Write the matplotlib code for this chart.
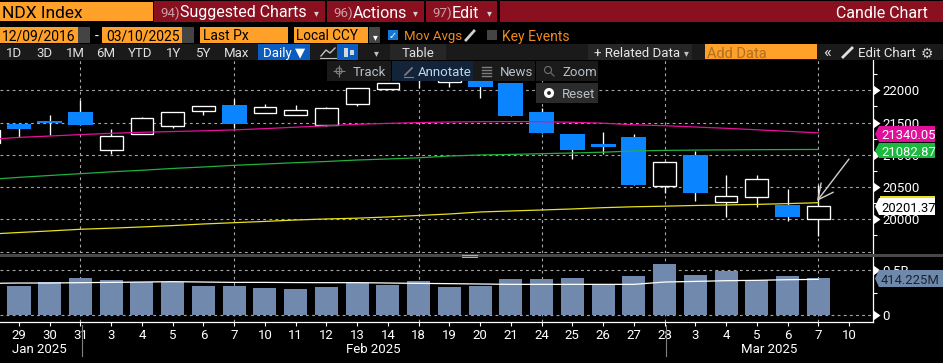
import matplotlib
matplotlib.use("Agg")
import matplotlib.pyplot as plt
from matplotlib.patches import Rectangle, Polygon, Circle
from matplotlib.markers import CARETRIGHTBASE

plt.rcParams["font.family"] = ["Roboto", "DejaVu Sans"]

# ============================================================
# 1. data
# ============================================================
days = ["28", "29", "30", "31", "3", "4", "5", "6", "7", "10", "11", "12", "13", "14",
        "18", "19", "20", "21", "24", "25", "26", "27", "28", "3", "4", "5", "6", "7", "10"]

open_px = [21183, 21478, 21524, 21664, 21079, 21318, 21451, 21674, 21772, 21653, 21622, 21467, 21783, 22025,
           22222, 22124, 22191, 22113, 21664, 21322, 21172, 21276, 20512, 20997, 20273, 20350, 20226, 20009]
high_px = [21385, 21478, 21617, 21850, 21400, 21591, 21659, 21761, 21865, 21788, 21767, 21741, 22031, 22108,
           22222, 22222, 22191, 22113, 21726, 21322, 21353, 21322, 20909, 21064, 20687, 20687, 20470, 20532]
low_px = [21183, 21276, 21307, 21467, 21017, 21318, 21416, 21617, 21416, 21653, 21622, 21451, 21757, 22025,
          22040, 22047, 21881, 21606, 21343, 20935, 21012, 20532, 20408, 20284, 20036, 20191, 19978, 19741]
close_px = [21385, 21400, 21493, 21467, 21287, 21566, 21659, 21761, 21482, 21746, 21690, 21721, 22031, 22108,
            22144, 22171, 22051, 21606, 21343, 21074, 21126, 20532, 20884, 20412, 20357, 20620, 20036, 20201.37]

ma_magenta = [21237, 21270, 21291, 21313, 21333, 21349, 21361, 21372, 21386, 21406, 21428, 21450, 21473, 21487,
              21499, 21509, 21513, 21515, 21513, 21504, 21490, 21465, 21451, 21431, 21411, 21388, 21364, 21340.05]
ma_green = [20617, 20650, 20679, 20707, 20736, 20760, 20788, 20811, 20837, 20857, 20878, 20896, 20919, 20935,
            20953, 20981, 20997, 21006, 21017, 21028, 21040, 21059, 21068, 21073, 21076, 21079, 21081, 21082.87]
ma_yellow = [19769, 19795, 19819, 19845, 19862, 19881, 19902, 19927, 19947, 19967, 19989, 20005, 20017, 20036,
             20059, 20082, 20113, 20129, 20144, 20160, 20180, 20194, 20203, 20214, 20222, 20231, 20243, 20257]

volume = [474, 324, 365, 414, 392, 365, 373, 324, 324, 302, 291, 313, 362, 336,
          380, 313, 324, 403, 403, 414, 336, 436, 571, 447, 492, 388, 436, 414.225]
volume_ma = [354, 358, 358, 362, 365, 369, 373, 369, 365, 365, 363, 362, 362, 358,
             354, 351, 347, 343, 343, 343, 343, 343, 369, 376, 384, 388, 395, 399]

price_grid = [19500, 20000, 20500, 21000, 21500, 22000]
price_ticks = [20000, 20500, 21000, 21500, 22000]
price_minor = [19750, 20250, 20750, 21250, 21750, 22250]
vertical_grid = [3, 8, 14, 18, 22, 27]

# ============================================================
# 2. figure helpers
# ============================================================
W, H = 943, 363
BLUE = "#0A84FF"
ORANGE = "#FFA028"
RED = "#8A1020"
BAR_GRAY = "#7089AD"
GRID = "#A8A8A8"

fig = plt.figure(figsize=(W / 100, H / 100), dpi=100, facecolor="black")


def px_axes(x0, y0, x1, y1, **kw):
    return fig.add_axes([x0 / W, 1 - y1 / H, (x1 - x0) / W, (y1 - y0) / H], facecolor="black", **kw)


def style_axis(ax, xlim, ylim):
    ax.set_xlim(*xlim)
    ax.set_ylim(*ylim)
    for side in ["top", "left"]:
        ax.spines[side].set_visible(False)
    ax.spines["right"].set_color("white")
    ax.spines["right"].set_linewidth(0.9)
    ax.yaxis.tick_right()
    ax.tick_params(axis="y", which="major", length=0, pad=7, labelcolor="white", labelsize=9.5)
    ax.tick_params(axis="y", which="minor", length=3, width=0.8, color="white", labelright=False)


def draw_grid(ax, ys):
    for y in ys:
        ax.plot(x_range, [y, y], color=GRID, lw=0.8, ls=(0, (2.5, 3)), zorder=1.5)
    y0, y1 = ax.get_ylim()
    for x in vertical_grid:
        ax.plot([x, x], [y0, y1], color=GRID, lw=0.8, ls=(0, (2.5, 3)), zorder=1.5)


# x position: day index 0 is the 28 Jan candle, cut off at the left edge
x_range = (-0.618 + 1, 27.78 + 1)
xs = list(range(len(open_px)))

# ============================================================
# 3. price panel
# ============================================================
ax = px_axes(0, 60, 873, 253)
style_axis(ax, x_range, (19477, 22470))
ax.spines["bottom"].set_visible(False)
ax.set_xticks([])
ax.set_yticks(price_ticks)
ax.set_yticks(price_minor, minor=True)
draw_grid(ax, price_grid)
ax.plot([1] * len(price_ticks), price_ticks, ls="none", marker=CARETRIGHTBASE, ms=7, color="white",
        mec="none", transform=ax.get_yaxis_transform(), clip_on=False, zorder=6)

for i in xs:
    ax.vlines(i, low_px[i], high_px[i], color="white", lw=0.95, zorder=2)
    body_low = min(open_px[i], close_px[i])
    body_h = abs(close_px[i] - open_px[i])
    if close_px[i] >= open_px[i]:
        ax.bar(i, body_h, 0.74, body_low, facecolor="black", edgecolor="white", lw=0.95, zorder=3)
    else:
        ax.bar(i, body_h, 0.81, body_low, color=BLUE, lw=0, zorder=3)

ax.plot(xs, ma_magenta, color="#E5109A", lw=0.9, zorder=4)
ax.plot(xs, ma_green, color="#22B03F", lw=0.9, zorder=4)
ax.plot(xs, ma_yellow, color="#E8E020", lw=0.9, zorder=4)

# ============================================================
# 4. volume panel
# ============================================================
ax2 = px_axes(0, 257, 873, 322)
style_axis(ax2, x_range, (-78, 649))
ax2.spines["bottom"].set_color("white")
ax2.spines["bottom"].set_linewidth(0.9)
ax2.set_yticks([0, 500], ["0", "0.5B"])
ax2.set_yticks([250], minor=True)
draw_grid(ax2, [0, 500])
ax2.bar(xs, volume, 0.75, color=BAR_GRAY, zorder=2)
ax2.plot(xs, volume_ma, color="white", lw=0.9, zorder=3)
ax2.plot([1, 1], [0, 500], ls="none", marker=CARETRIGHTBASE, ms=7, color="white",
         mec="none", transform=ax2.get_yaxis_transform(), clip_on=False, zorder=6)
ax2.set_xticks(list(range(1, len(days))), days[1:])
ax2.tick_params(axis="x", length=3, width=0.8, color="white", labelcolor="white", labelsize=9.5, pad=2)

# ============================================================
# 5. terminal chrome, in pixel coordinates
# ============================================================
ui = fig.add_axes([0, 0, 1, 1], zorder=20)
ui.set_xlim(0, W)
ui.set_ylim(H, 0)
ui.axis("off")


def box(x0, y0, x1, y1, color, **kw):
    ui.add_patch(Rectangle((x0, y0), x1 - x0, y1 - y0, facecolor=color, edgecolor="none", **kw))


def label(x, y, s, color="white", size=9.5, ha="left", **kw):
    ui.text(x, y, s, color=color, fontsize=size, ha=ha, va="center_baseline", **kw)


def tag(y0, y1, x1, color, s, text_color="white", size=9.4):
    mid = (y0 + y1) / 2
    ui.add_patch(Polygon([(875, mid), (879, y0), (x1, y0), (x1, y1), (879, y1)], facecolor=color, edgecolor="none"))
    label(881, mid, s, text_color, size)


# top row
box(0, 2, 153, 21, ORANGE)
label(2, 12, "NDX Index", "black", 12.5)
for x0, x1 in [(154, 325), (327, 424), (426, 497), (500, 943)]:
    box(x0, 1, x1, 22, RED)
label(160, 11.5, "94)", "#C8A0A8", 9.5)
label(180, 11.5, "Suggested Charts", "white", 11.5)
label(316, 12, "▾", "#D0D0D0", 7, ha="center")
label(333, 11.5, "96)", "#C8A0A8", 9.5)
label(353, 11.5, "Actions", "white", 11.5)
label(415, 12, "▾", "#D0D0D0", 7, ha="center")
label(432, 11.5, "97)", "#C8A0A8", 9.5)
label(452, 11.5, "Edit", "white", 11.5)
label(489, 12, "▾", "#D0D0D0", 7, ha="center")
label(928, 11.5, "Candle Chart", "white", 11.5, ha="right")

# date row
box(0, 27, 78, 43, ORANGE)
box(78, 27, 90, 43, "#444444")
label(2, 35, "12/09/2016", "black", 10)
label(97, 35, "-", "white", 10, ha="center")
box(102, 27, 182, 43, ORANGE)
box(182, 27, 194, 43, "#444444")
label(106, 35, "03/10/2025", "black", 10)
box(200, 27, 288, 43, ORANGE)
label(203, 35, "Last Px", "black", 10)
box(294, 27, 368, 43, ORANGE)
label(296, 35, "Local CCY", "black", 9.8)
box(369, 27, 380, 43, "#444444")
label(375, 36, "▾", "white", 7, ha="center")
box(388, 30, 398, 40, "#1478D8")
label(393, 35, "✓", "white", 7, ha="center")
label(404, 35, "Mov Avgs", "#F08A1C", 9.5)
box(487, 30, 497, 40, "#444444")
label(502, 35, "Key Events", "#F08A1C", 10)
ui.plot([466, 474], [40, 31], color="#D0D0D0", lw=2)

# button row
box(0, 44, 943, 60, "#1A1A1A")
for name, cx in [("1D", 14), ("3D", 44), ("1M", 75), ("6M", 106), ("YTD", 140),
                 ("1Y", 174), ("5Y", 204), ("Max", 237)]:
    label(cx, 52, name, "#E0E0E0", 9.5, ha="center")
box(258, 44, 310, 60, "#0A5CC0")
label(263, 52, "Daily ▼", "white", 9.5)
box(337, 44, 358, 60, "#0A5CC0")
box(344, 48, 348, 57, "#D0D8E0")
box(350, 50, 354, 55, "#D0D8E0")
ui.plot([321, 326, 330, 335], [56, 50, 53, 48], color="#C0C0C0", lw=1)
ui.plot([320, 336], [58, 58], color="#C0C0C0", lw=0.8)
label(376, 52, "▾", "#C0C0C0", 7, ha="center")
box(390, 44, 446, 60, "#262626")
label(418, 52, "Table", "#E0E0E0", 9.5, ha="center")
box(588, 44, 692, 60, "#262626")
label(594, 52, "+ Related Data", "#E8E8E8", 9.5)
label(686, 52, "▾", "#C0C0C0", 7, ha="center")
box(705, 44, 817, 59, ORANGE)
label(707, 52, "Add Data", "#B07020", 10.5)
label(827, 51, "«", "#E0E0E0", 12, ha="center")
label(858, 52, "Edit Chart", "#E8E8E8", 9.5)
label(927, 52, "⚙", "#D0D0D0", 10, ha="center")
ui.plot([843, 852], [57, 48], color="#E0E0E0", lw=2)

# chart tools floating over the plot
box(327, 61, 391, 81, "#1A1A1A")
box(392, 61, 473, 81, "#13233A")
box(473, 61, 535, 81, "#1A1A1A")
box(536, 61, 598, 81, "#1A1A1A")
box(536, 83, 598, 103, "#2B2B2B")
label(353, 71, "Track", "#B8C0C8", 9.5)
label(418, 71, "Annotate", "#B8D8F0", 9.5)
label(500, 71, "News", "#B8C0C8", 9.5)
label(562, 71, "Zoom", "#B8C0C8", 9.5)
label(562, 93, "Reset", "#B8C0C8", 9.5)
ui.plot([339], [71], marker="+", ms=9, color="#808080", mew=0.8)
ui.add_patch(Circle((339, 71), 3, facecolor="none", edgecolor="#808080", lw=0.8))
ui.plot([405, 412], [75, 68], color="#808080", lw=1.2)
ui.plot([404, 413], [77, 77], color="#808080", lw=0.8)
for yy in [67, 70, 73, 76]:
    ui.plot([482, 491], [yy, yy], color="#808080", lw=1)
ui.add_patch(Circle((548, 70), 3.5, facecolor="none", edgecolor="#707070", lw=0.8))
ui.plot([551, 554], [73, 76], color="#707070", lw=0.8)
ui.add_patch(Circle((549, 93), 3.5, facecolor="none", edgecolor="white", lw=2.2))

# splitter between the panels
box(0, 253.5, 943, 257, "#484848")
ui.plot([462, 477], [254.5, 254.5], color="#B0B0B0", lw=0.7)
ui.plot([462, 477], [256.5, 256.5], color="#B0B0B0", lw=0.7)

# arrow drawn on the chart
ui.annotate("", xy=(817, 201), xytext=(849, 159),
            arrowprops=dict(arrowstyle="->,head_length=1.1,head_width=0.55", color="#D0D0D0", lw=1.0,
                            shrinkA=0, shrinkB=0))

# last value tags
tag(126, 142, 935, "#E0109A", "21340.05")
tag(143, 158, 935, "#1DB83E", "21082.87")
box(880, 195.5, 935, 198, "#E8E020")
tag(198, 215, 935, "white", "20201.37", "black")
tag(270, 287, 943, "#6F89AB", "414.225M", "#1C2430")

# month row under the dates
label(39, 348, "Jan 2025", "white", 9.5, ha="center")
label(373, 348, "Feb 2025", "white", 9.5, ha="center")
label(769, 348, "Mar 2025", "white", 9.5, ha="center")
ui.plot([81.5, 81.5], [325, 356], color="#808080", lw=0.8)
ui.plot([665.5, 665.5], [325, 356], color="#808080", lw=0.8)

fig.savefig("out.png", dpi=100, facecolor="black")
